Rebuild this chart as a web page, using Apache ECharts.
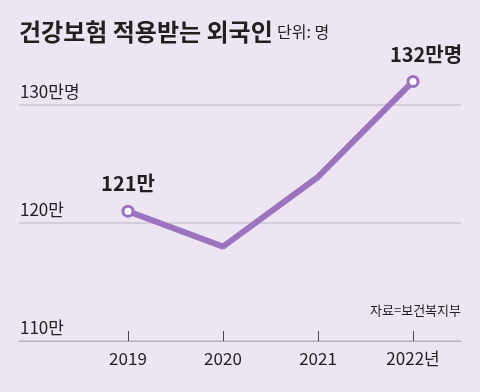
<!DOCTYPE html>
<html><head><meta charset="utf-8">
<script src="https://cdn.jsdelivr.net/npm/echarts@6/dist/echarts.min.js"></script>
<style>html,body{margin:0;padding:0;background:#ede5f2;}#c{width:480px;height:392px;}</style>
</head><body><div id="c"></div>
<script>
const years = [2019, 2020, 2021, 2022];
const values = [121, 118, 123.9, 132];
const labels = ['121만', '', '', '132만명'];
const yTicks = [110, 120, 130];
const yTickLabels = {110: '110만', 120: '120만', 130: '130만명'};
const title = '건강보험 적용받는 외국인';
const unit = '단위: 명';
const source = '자료=보건복지부';

const narrow = '"Liberation Sans Narrow","Noto Sans CJK KR",sans-serif';
const kr = '"Noto Sans CJK KR",sans-serif';
const chart = echarts.init(document.getElementById('c'));
chart.setOption({
  backgroundColor: '#ede5f2',
  animation: false,
  graphic: [
    {type: 'text', left: 19, top: 20, style: {text: title, font: 'bold 24px ' + kr, fill: '#231f20'}},
    {type: 'text', left: 277, top: 24, style: {text: unit, font: '16px ' + kr, fill: '#231f20'}},
    {type: 'text', right: 19, top: 304, style: {text: source, font: '13px ' + kr, fill: '#231f20', align: 'right'}}
  ],
  grid: {left: 19, right: 19, top: 0, bottom: 51, containLabel: false},
  xAxis: {
    type: 'value', min: 2017.853, max: 2022.505,
    splitLine: {show: false},
    axisLine: {show: true, onZero: false, lineStyle: {color: '#b7aebd', width: 1}},
    axisTick: {show: true, inside: true, length: 10, customValues: years, lineStyle: {color: '#4a4550', width: 1}},
    axisLabel: {customValues: years, margin: 9, fontSize: 17, fontFamily: narrow, color: '#231f20',
      formatter: v => v === 2022 ? v + '년' : String(v)}
  },
  yAxis: {
    type: 'value', min: 110, max: 138.9, interval: 10,
    axisLine: {show: false}, axisTick: {show: false},
    splitLine: {showMaxLine: false, lineStyle: {color: '#cdc4d3', width: 1.5}},
    axisLabel: {inside: true, showMaxLabel: false, fontSize: 17, fontFamily: narrow, color: '#231f20',
      verticalAlign: 'bottom', padding: [0, 0, 5, 0], margin: 1,
      formatter: v => yTickLabels[v] || ''}
  },
  series: [{
    type: 'line',
    data: years.map((y, i) => ({
      value: [y, values[i]],
      symbolSize: labels[i] ? 10 : 0,
      label: {show: !!labels[i], formatter: labels[i], offset: i === 3 ? [13, -1] : [0, -1]}
    })),
    symbol: 'circle',
    lineStyle: {color: '#9b73be', width: 6},
    itemStyle: {color: '#ffffff', borderColor: '#9b73be', borderWidth: 3},
    label: {position: 'top', distance: 10, fontSize: 20, fontWeight: 'bold', fontFamily: narrow, color: '#231f20'},
    z: 5
  }]
});
</script></body></html>
